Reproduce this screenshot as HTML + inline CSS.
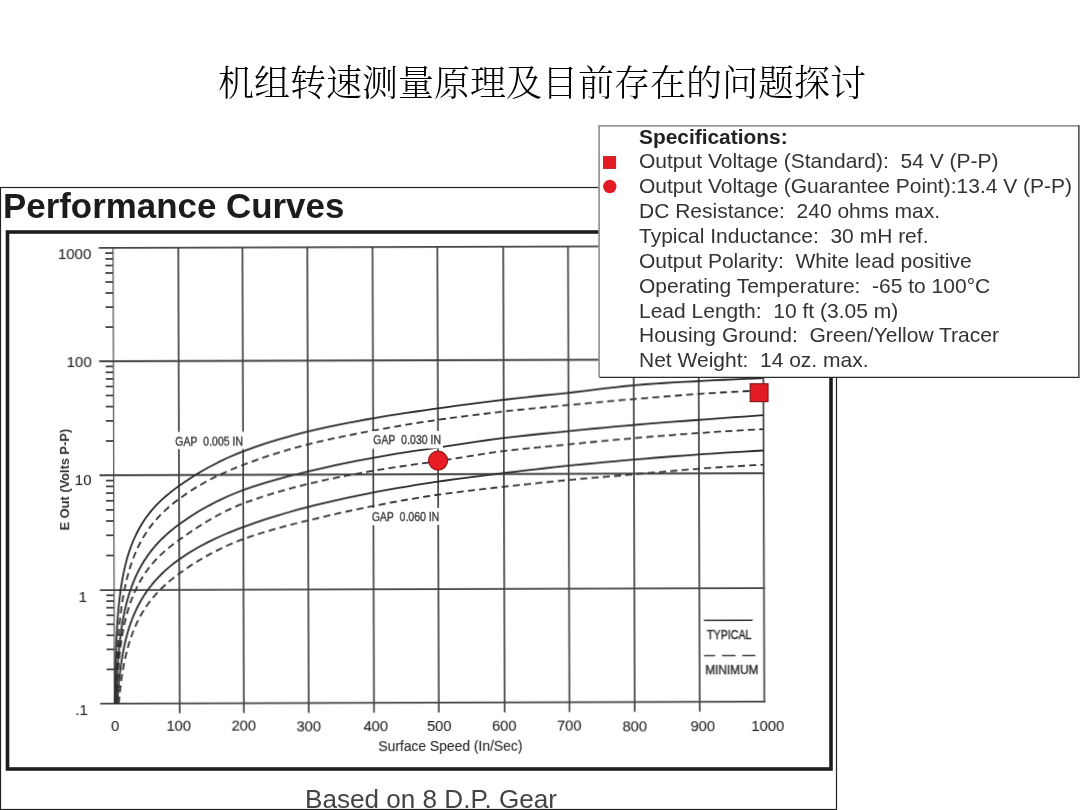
<!DOCTYPE html>
<html><head><meta charset="utf-8"><title>机组转速测量原理及目前存在的问题探讨</title>
<style>
html,body{margin:0;padding:0;background:#fff;}
body{width:1080px;height:810px;overflow:hidden;position:relative;}
svg{position:absolute;left:0;top:0;}
.g{stroke:#444;stroke-width:1.7;fill:none;}
.gh{stroke:#444;stroke-width:1.9;fill:none;}
.ax{stroke:#666;stroke-width:1.4;fill:none;}
.t{stroke:#444;stroke-width:1.8;fill:none;}
.cs{stroke:#2a2a2a;stroke-width:1.8;fill:none;stroke-linejoin:round;}
.cd{stroke:#333;stroke-width:1.8;fill:none;stroke-dasharray:7 4.3;}
.lab{font-family:"Liberation Sans",Arial,sans-serif;fill:#2a2a2a;stroke:#2a2a2a;stroke-width:0.12;}
.gl{font-family:"Liberation Sans",Arial,sans-serif;fill:#2a2a2a;stroke:#2a2a2a;stroke-width:0.35;font-size:12.4px;}
.sr{font-family:"Liberation Sans",Arial,sans-serif;font-size:21px;fill:#333;}
.sb{font-family:"Liberation Sans",Arial,sans-serif;font-size:20.9px;font-weight:bold;fill:#222;}
.title{font-family:"Liberation Serif","Noto Serif CJK SC",serif;font-size:36px;font-weight:300;fill:#000;}
</style></head>
<body>
<svg width="1080" height="810" viewBox="0 0 1080 810">
<defs><filter id="bl" x="-5%" y="-5%" width="110%" height="110%"><feGaussianBlur stdDeviation="0.45"/></filter></defs>
<text x="218" y="96" class="title">机组转速测量原理及目前存在的问题探讨</text>
<rect x="0.5" y="187.5" width="836" height="622" fill="none" stroke="#222" stroke-width="1.2"/>
<rect x="7.5" y="232" width="823.5" height="537" fill="none" stroke="#1e1e1e" stroke-width="3.6"/>
<text x="3" y="218.3" font-family="Liberation Sans,Arial,sans-serif" font-weight="bold" font-size="34.9" fill="#1c1c1c">Performance Curves</text>
<text x="305.1" y="808" font-family="Liberation Sans,Arial,sans-serif" font-size="26.1" fill="#444">Based on 8 D.P. Gear</text>
<g transform="rotate(-0.176 438 475)" filter="url(#bl)">
<line x1="179.0" y1="246.9" x2="179.0" y2="712.6" class="g"/>
<line x1="243.2" y1="246.9" x2="243.2" y2="712.6" class="g"/>
<line x1="308.0" y1="246.9" x2="308.0" y2="712.6" class="g"/>
<line x1="373.3" y1="246.9" x2="373.3" y2="712.6" class="g"/>
<line x1="438.1" y1="246.9" x2="438.1" y2="712.6" class="g"/>
<line x1="503.9" y1="246.9" x2="503.9" y2="712.6" class="g"/>
<line x1="568.7" y1="246.9" x2="568.7" y2="712.6" class="g"/>
<line x1="634.0" y1="246.9" x2="634.0" y2="712.6" class="g"/>
<line x1="699.0" y1="246.9" x2="699.0" y2="712.6" class="g"/>
<line x1="763.6" y1="246.9" x2="763.6" y2="703.5" class="g"/>
<line x1="113.7" y1="246.9" x2="113.7" y2="702.6" class="ax"/>
<line x1="99.5" y1="246.9" x2="764.4" y2="246.9" class="gh"/>
<line x1="99.5" y1="360.2" x2="764.4" y2="360.2" class="gh"/>
<line x1="99.5" y1="474.3" x2="764.4" y2="474.3" class="gh"/>
<line x1="99.5" y1="589.1" x2="764.4" y2="589.1" class="gh"/>
<line x1="99.5" y1="702.6" x2="764.4" y2="702.6" class="gh"/>
<line x1="106" y1="668.4" x2="113.7" y2="668.4" class="t"/>
<line x1="106" y1="648.4" x2="113.7" y2="648.4" class="t"/>
<line x1="106" y1="634.3" x2="113.7" y2="634.3" class="t"/>
<line x1="106" y1="623.3" x2="113.7" y2="623.3" class="t"/>
<line x1="106" y1="614.3" x2="113.7" y2="614.3" class="t"/>
<line x1="106" y1="606.7" x2="113.7" y2="606.7" class="t"/>
<line x1="106" y1="600.1" x2="113.7" y2="600.1" class="t"/>
<line x1="106" y1="594.3" x2="113.7" y2="594.3" class="t"/>
<line x1="106" y1="554.5" x2="113.7" y2="554.5" class="t"/>
<line x1="106" y1="534.3" x2="113.7" y2="534.3" class="t"/>
<line x1="106" y1="520.0" x2="113.7" y2="520.0" class="t"/>
<line x1="106" y1="508.9" x2="113.7" y2="508.9" class="t"/>
<line x1="106" y1="499.8" x2="113.7" y2="499.8" class="t"/>
<line x1="106" y1="492.1" x2="113.7" y2="492.1" class="t"/>
<line x1="106" y1="485.4" x2="113.7" y2="485.4" class="t"/>
<line x1="106" y1="479.6" x2="113.7" y2="479.6" class="t"/>
<line x1="106" y1="440.0" x2="113.7" y2="440.0" class="t"/>
<line x1="106" y1="419.9" x2="113.7" y2="419.9" class="t"/>
<line x1="106" y1="405.6" x2="113.7" y2="405.6" class="t"/>
<line x1="106" y1="394.5" x2="113.7" y2="394.5" class="t"/>
<line x1="106" y1="385.5" x2="113.7" y2="385.5" class="t"/>
<line x1="106" y1="377.9" x2="113.7" y2="377.9" class="t"/>
<line x1="106" y1="371.3" x2="113.7" y2="371.3" class="t"/>
<line x1="106" y1="365.4" x2="113.7" y2="365.4" class="t"/>
<line x1="106" y1="326.1" x2="113.7" y2="326.1" class="t"/>
<line x1="106" y1="306.1" x2="113.7" y2="306.1" class="t"/>
<line x1="106" y1="292.0" x2="113.7" y2="292.0" class="t"/>
<line x1="106" y1="281.0" x2="113.7" y2="281.0" class="t"/>
<line x1="106" y1="272.0" x2="113.7" y2="272.0" class="t"/>
<line x1="106" y1="264.5" x2="113.7" y2="264.5" class="t"/>
<line x1="106" y1="257.9" x2="113.7" y2="257.9" class="t"/>
<line x1="106" y1="252.1" x2="113.7" y2="252.1" class="t"/>

<path d="M114.25,702.60 L114.26,701.82 L114.30,698.32 L114.35,694.82 L114.40,691.32 L114.46,687.82 L114.52,684.32 L114.59,680.82 L114.66,677.32 L114.73,673.81 L114.82,670.31 L114.90,666.81 L115.00,663.31 L115.10,659.81 L115.22,656.31 L115.34,652.81 L115.47,649.30 L115.61,645.80 L115.76,642.30 L115.93,638.80 L116.10,635.30 L116.30,631.80 L116.50,628.30 L116.73,624.80 L116.97,621.30 L117.23,617.80 L117.51,614.30 L117.82,610.80 L118.14,607.30 L118.50,603.81 L118.88,600.31 L119.29,596.81 L119.74,593.32 L120.22,589.83 L120.74,586.30 L121.31,582.77 L121.91,579.24 L122.57,575.71 L123.28,572.18 L124.04,568.65 L124.87,565.13 L125.76,561.60 L126.72,558.08 L127.76,554.56 L128.88,551.05 L130.09,547.53 L131.40,544.02 L132.81,540.51 L134.34,537.01 L135.99,533.51 L137.76,530.01 L139.69,526.52 L141.76,523.03 L144.00,519.55 L146.42,516.07 L149.03,512.61 L151.85,509.16 L154.89,505.73 L158.18,502.31 L161.73,498.90 L165.56,495.50 L169.70,492.07 L174.17,488.62 L179.00,485.10 L188.79,478.40 L198.59,472.32 L208.38,466.77 L218.17,461.68 L227.97,457.03 L237.76,452.83 L247.59,449.08 L257.48,445.62 L267.36,442.39 L277.25,439.37 L287.13,436.55 L297.02,433.91 L306.90,431.46 L316.85,429.17 L326.82,426.99 L336.78,424.92 L346.74,422.95 L356.70,421.07 L366.66,419.26 L376.59,417.54 L386.48,415.91 L396.36,414.38 L406.25,412.91 L416.13,411.50 L426.02,410.10 L435.90,408.71 L445.91,407.32 L455.94,405.97 L465.98,404.65 L476.02,403.38 L486.06,402.13 L496.09,400.92 L506.10,399.74 L515.98,398.62 L525.87,397.55 L535.75,396.52 L545.64,395.52 L555.52,394.53 L565.41,393.54 L575.34,392.50 L585.30,391.37 L595.26,390.18 L605.22,388.98 L615.18,387.82 L625.15,386.75 L635.10,385.80 L645.02,385.01 L654.93,384.33 L664.85,383.75 L674.76,383.22 L684.68,382.72 L694.59,382.23 L704.47,381.72 L714.33,381.22 L724.18,380.75 L734.04,380.31 L743.89,379.88 L753.75,379.48 L763.60,379.10" class="cs"/>
<path d="M115.27,702.60 L115.34,700.41 L115.47,696.65 L115.61,692.89 L115.76,689.14 L115.93,685.39 L116.10,681.65 L116.30,677.91 L116.50,674.17 L116.73,670.43 L116.97,666.70 L117.23,662.98 L117.51,659.25 L117.82,655.53 L118.14,651.81 L118.50,648.10 L118.88,644.39 L119.29,640.68 L119.74,636.98 L120.22,633.28 L120.74,629.59 L121.31,625.89 L121.91,622.21 L122.57,618.52 L123.28,614.84 L124.04,611.16 L124.87,607.49 L125.76,603.82 L126.72,600.16 L127.76,596.50 L128.88,592.84 L130.09,589.19 L131.40,585.50 L132.81,581.81 L134.34,578.13 L135.99,574.45 L137.76,570.78 L139.69,567.11 L141.76,563.45 L144.00,559.79 L146.42,556.14 L149.03,552.49 L151.85,548.85 L154.89,545.22 L158.18,541.60 L161.73,537.98 L165.56,534.37 L169.70,530.76 L174.17,527.14 L179.00,523.50 L188.79,516.69 L198.59,510.59 L208.38,505.08 L218.17,500.07 L227.97,495.54 L237.76,491.47 L247.59,487.84 L257.48,484.57 L267.36,481.59 L277.25,478.82 L287.13,476.23 L297.02,473.75 L306.90,471.36 L316.85,469.04 L326.82,466.81 L336.78,464.67 L346.74,462.63 L356.70,460.67 L366.66,458.80 L376.59,457.02 L386.48,455.33 L396.36,453.72 L406.25,452.18 L416.13,450.69 L426.02,449.24 L435.90,447.81 L445.91,446.38 L455.94,444.90 L465.98,443.40 L476.02,441.92 L486.06,440.50 L496.09,439.16 L506.10,437.94 L515.98,436.82 L525.87,435.75 L535.75,434.73 L545.64,433.74 L555.52,432.78 L565.41,431.82 L575.34,430.87 L585.30,429.93 L595.26,429.00 L605.22,428.09 L615.18,427.21 L625.15,426.35 L635.10,425.51 L645.02,424.71 L654.93,423.93 L664.85,423.18 L674.76,422.45 L684.68,421.73 L694.59,421.02 L704.47,420.30 L714.33,419.60 L724.18,418.90 L734.04,418.22 L743.89,417.54 L753.75,416.86 L763.60,416.20" class="cs"/>
<path d="M116.62,702.60 L116.73,700.94 L116.97,697.36 L117.23,693.79 L117.51,690.22 L117.82,686.65 L118.14,683.08 L118.50,679.51 L118.88,675.94 L119.29,672.38 L119.74,668.81 L120.22,665.24 L120.74,661.68 L121.31,658.11 L121.91,654.55 L122.57,650.98 L123.28,647.42 L124.04,643.86 L124.87,640.30 L125.76,636.74 L126.72,633.18 L127.76,629.62 L128.88,626.07 L130.09,622.51 L131.40,618.96 L132.81,615.41 L134.34,611.86 L135.99,608.31 L137.76,604.76 L139.69,601.21 L141.76,597.67 L144.00,594.13 L146.42,590.59 L149.03,587.03 L151.85,583.45 L154.89,579.88 L158.18,576.31 L161.73,572.75 L165.56,569.19 L169.70,565.63 L174.17,562.07 L179.00,558.50 L188.79,551.93 L198.59,546.18 L208.38,541.08 L218.17,536.48 L227.97,532.29 L237.76,528.43 L247.59,524.83 L257.48,521.44 L267.36,518.21 L277.25,515.15 L287.13,512.24 L297.02,509.48 L306.90,506.88 L316.85,504.41 L326.82,502.04 L336.78,499.77 L346.74,497.60 L356.70,495.53 L366.66,493.56 L376.59,491.69 L386.48,489.90 L396.36,488.18 L406.25,486.52 L416.13,484.93 L426.02,483.39 L435.90,481.92 L445.91,480.51 L455.94,479.15 L465.98,477.83 L476.02,476.56 L486.06,475.32 L496.09,474.12 L506.10,472.94 L515.98,471.79 L525.87,470.67 L535.75,469.57 L545.64,468.50 L555.52,467.45 L565.41,466.43 L575.34,465.44 L585.30,464.49 L595.26,463.56 L605.22,462.67 L615.18,461.79 L625.15,460.94 L635.10,460.11 L645.02,459.30 L654.93,458.51 L664.85,457.75 L674.76,457.01 L684.68,456.30 L694.59,455.60 L704.47,454.93 L714.33,454.29 L724.18,453.68 L734.04,453.10 L743.89,452.55 L753.75,452.01 L763.60,451.50" class="cs"/>
<path d="M114.95,702.60 L115.00,700.56 L115.10,696.28 L115.22,692.01 L115.34,687.75 L115.47,683.51 L115.61,679.28 L115.76,675.05 L115.93,670.85 L116.10,666.65 L116.30,662.47 L116.50,658.29 L116.73,654.13 L116.97,649.99 L117.23,645.85 L117.51,641.73 L117.82,637.62 L118.14,633.52 L118.50,629.44 L118.88,625.37 L119.29,621.31 L119.74,617.26 L120.22,613.23 L120.74,609.21 L121.31,605.20 L121.91,601.21 L122.57,597.23 L123.28,593.26 L124.04,589.31 L124.87,585.33 L125.76,581.36 L126.72,577.40 L127.76,573.46 L128.88,569.53 L130.09,565.62 L131.40,561.72 L132.81,557.84 L134.34,553.98 L135.99,550.13 L137.76,546.29 L139.69,542.47 L141.76,538.67 L144.00,534.89 L146.42,531.12 L149.03,527.38 L151.85,523.67 L154.89,519.99 L158.18,516.33 L161.73,512.69 L165.56,509.07 L169.70,505.44 L174.17,501.80 L179.00,498.10 L188.79,491.20 L198.59,485.13 L208.38,479.72 L218.17,474.82 L227.97,470.39 L237.76,466.32 L247.59,462.57 L257.48,459.04 L267.36,455.70 L277.25,452.56 L287.13,449.60 L297.02,446.84 L306.90,444.27 L316.85,441.89 L326.82,439.63 L336.78,437.49 L346.74,435.45 L356.70,433.50 L366.66,431.62 L376.59,429.80 L386.48,428.03 L396.36,426.32 L406.25,424.66 L416.13,423.07 L426.02,421.55 L435.90,420.11 L445.91,418.75 L455.94,417.43 L465.98,416.16 L476.02,414.93 L486.06,413.74 L496.09,412.58 L506.10,411.46 L515.98,410.40 L525.87,409.40 L535.75,408.45 L545.64,407.52 L555.52,406.62 L565.41,405.71 L575.34,404.79 L585.30,403.88 L595.26,402.99 L605.22,402.12 L615.18,401.26 L625.15,400.43 L635.10,399.61 L645.02,398.82 L654.93,398.03 L664.85,397.27 L674.76,396.53 L684.68,395.80 L694.59,395.10 L704.47,394.44 L714.33,393.82 L724.18,393.26 L734.04,392.75 L743.89,392.27 L753.75,391.82 L763.60,391.40" class="cd"/>
<path d="M115.59,702.60 L115.61,701.99 L115.76,698.36 L115.93,694.74 L116.10,691.12 L116.30,687.50 L116.50,683.88 L116.73,680.27 L116.97,676.65 L117.23,673.05 L117.51,669.44 L117.82,665.84 L118.14,662.23 L118.50,658.64 L118.88,655.04 L119.29,651.45 L119.74,647.86 L120.22,644.28 L120.74,640.69 L121.31,637.12 L121.91,633.54 L122.57,629.97 L123.28,626.41 L124.04,622.84 L124.87,619.29 L125.76,615.74 L126.72,612.19 L127.76,608.65 L128.88,605.11 L130.09,601.58 L131.40,598.06 L132.81,594.54 L134.34,591.03 L135.99,587.52 L137.76,583.98 L139.69,580.46 L141.76,576.94 L144.00,573.44 L146.42,569.94 L149.03,566.47 L151.85,563.03 L154.89,559.61 L158.18,556.22 L161.73,552.85 L165.56,549.48 L169.70,546.08 L174.17,542.64 L179.00,539.10 L188.79,532.22 L198.59,525.80 L208.38,519.82 L218.17,514.31 L227.97,509.32 L237.76,504.94 L247.59,501.21 L257.48,497.82 L267.36,494.65 L277.25,491.70 L287.13,488.93 L297.02,486.32 L306.90,483.87 L316.85,481.55 L326.82,479.37 L336.78,477.31 L346.74,475.36 L356.70,473.51 L366.66,471.74 L376.59,470.05 L386.48,468.46 L396.36,466.97 L406.25,465.55 L416.13,464.17 L426.02,462.80 L435.90,461.41 L445.91,459.96 L455.94,458.39 L465.98,456.77 L476.02,455.15 L486.06,453.60 L496.09,452.18 L506.10,450.94 L515.98,449.85 L525.87,448.84 L535.75,447.88 L545.64,446.96 L555.52,446.05 L565.41,445.12 L575.34,444.16 L585.30,443.21 L595.26,442.27 L605.22,441.34 L615.18,440.44 L625.15,439.56 L635.10,438.71 L645.02,437.89 L654.93,437.10 L664.85,436.34 L674.76,435.60 L684.68,434.89 L694.59,434.20 L704.47,433.53 L714.33,432.89 L724.18,432.28 L734.04,431.70 L743.89,431.14 L753.75,430.61 L763.60,430.10" class="cd"/>
<path d="M118.08,702.60 L118.14,701.84 L118.50,698.00 L118.88,694.16 L119.29,690.34 L119.74,686.52 L120.22,682.70 L120.74,678.90 L121.31,675.11 L121.91,671.32 L122.57,667.54 L123.28,663.77 L124.04,660.01 L124.87,656.26 L125.76,652.51 L126.72,648.78 L127.76,645.05 L128.88,641.34 L130.09,637.63 L131.40,633.94 L132.81,630.25 L134.34,626.57 L135.99,622.91 L137.76,619.25 L139.69,615.61 L141.76,611.98 L144.00,608.36 L146.42,604.75 L149.03,601.16 L151.85,597.59 L154.89,594.05 L158.18,590.52 L161.73,586.98 L165.56,583.44 L169.70,579.89 L174.17,576.32 L179.00,572.70 L188.79,565.87 L198.59,559.73 L208.38,554.16 L218.17,549.11 L227.97,544.54 L237.76,540.46 L247.59,536.85 L257.48,533.60 L267.36,530.60 L277.25,527.83 L287.13,525.22 L297.02,522.75 L306.90,520.36 L316.85,518.02 L326.82,515.71 L336.78,513.45 L346.74,511.25 L356.70,509.12 L366.66,507.09 L376.59,505.17 L386.48,503.31 L396.36,501.49 L406.25,499.74 L416.13,498.07 L426.02,496.49 L435.90,495.01 L445.91,493.65 L455.94,492.36 L465.98,491.14 L476.02,489.97 L486.06,488.84 L496.09,487.74 L506.10,486.66 L515.98,485.60 L525.87,484.57 L535.75,483.57 L545.64,482.59 L555.52,481.63 L565.41,480.71 L575.34,479.81 L585.30,478.94 L595.26,478.11 L605.22,477.29 L615.18,476.48 L625.15,475.65 L635.10,474.81 L645.02,473.96 L654.93,473.12 L664.85,472.31 L674.76,471.50 L684.68,470.71 L694.59,469.94 L704.47,469.19 L714.33,468.50 L724.18,467.87 L734.04,467.28 L743.89,466.73 L753.75,466.20 L763.60,465.70" class="cd"/>
<rect x="174" y="431.3" width="71" height="17" fill="#fff"/>
<rect x="372" y="430.9" width="71" height="17.6" fill="#fff"/>
<rect x="370" y="507.9" width="71" height="17" fill="#fff"/>
<g class="lab" font-size="15" text-anchor="end">
<text x="92" y="257.94" >1000</text>
<text x="92" y="366.44" >100</text>
<text x="91.5" y="483.94" >10</text>
<text x="86.5" y="601.42" >1</text>
<text x="87" y="713.92" >.1</text>
</g>
<g class="lab" font-size="14.8" text-anchor="middle">
<text x="114.4" y="730.01" >0</text>
<text x="178" y="730.2" >100</text>
<text x="243" y="730.4" >200</text>
<text x="308" y="730.6" >300</text>
<text x="375" y="730.81" >400</text>
<text x="438.5" y="731.0" >500</text>
<text x="503.5" y="731.2" >600</text>
<text x="568.5" y="731.4" >700</text>
<text x="634" y="731.6" >800</text>
<text x="702" y="731.81" >900</text>
<text x="767" y="732.01" >1000</text>
</g>
<text x="377.5" y="750.81" class="lab" font-size="13.9" textLength="144" lengthAdjust="spacingAndGlyphs">Surface Speed (In/Sec)</text>
<text transform="translate(68.8,529.27) rotate(-90)" class="lab" font-size="12.6" font-weight="bold" textLength="101.5" lengthAdjust="spacingAndGlyphs" style="fill:#333;stroke:none">E Out (Volts P-P)</text>
<g class="gl">
<text x="175.3" y="444.59" textLength="67.8" lengthAdjust="spacingAndGlyphs">GAP  0.005 IN</text>
<text x="373.3" y="444.4" textLength="67.8" lengthAdjust="spacingAndGlyphs">GAP  0.030 IN</text>
<text x="371.7" y="521.4" textLength="67.5" lengthAdjust="spacingAndGlyphs">GAP  0.060 IN</text>
<text x="706.5" y="639.62" textLength="44.5" lengthAdjust="spacingAndGlyphs">TYPICAL</text>
<text x="704.7" y="674.82" textLength="53.1" lengthAdjust="spacingAndGlyphs">MINIMUM</text>
</g>
<line x1="703.5" y1="621.29" x2="752.2" y2="621.29" stroke="#333" stroke-width="1.6"/>
<path d="M703.5,656.49 H714.6 M721.4,656.49 H735 M741.7,656.49 H754.7" stroke="#444" stroke-width="1.6"/>
</g>
<circle cx="438.1" cy="460.6" r="9.5" fill="#e81c24" stroke="#9a1a1a" stroke-width="1.3"/>
<rect x="750.2" y="383.8" width="17.8" height="17.8" fill="#e31b23" stroke="#8a1a1a" stroke-width="1.2"/>
<rect x="599" y="126" width="480" height="251.3" fill="#fff"/>
<path d="M599.1,377.3 V125.9 H1079" fill="none" stroke="#9a9a9a" stroke-width="1.8"/>
<path d="M1078.9,125.2 V377.3 H599.5" fill="none" stroke="#2a2a2a" stroke-width="1.3"/>
<rect x="603.5" y="156.5" width="12.2" height="12" fill="#e31b23" stroke="#b01820" stroke-width="0.8"/>
<circle cx="609.8" cy="186.5" r="6.7" fill="#e31b23"/>
<text x="639" y="143.5" class="sb">Specifications:</text>
<text x="639" y="168.3" class="sr">Output Voltage (Standard):  54 V (P-P)</text>
<text x="639" y="193.2" class="sr">Output Voltage (Guarantee Point):13.4 V (P-P)</text>
<text x="639" y="218.1" class="sr">DC Resistance:  240 ohms max.</text>
<text x="639" y="242.9" class="sr">Typical Inductance:  30 mH ref.</text>
<text x="639" y="267.8" class="sr">Output Polarity:  White lead positive</text>
<text x="639" y="292.6" class="sr">Operating Temperature:  -65 to 100°C</text>
<text x="639" y="317.5" class="sr">Lead Length:  10 ft (3.05 m)</text>
<text x="639" y="342.3" class="sr">Housing Ground:  Green/Yellow Tracer</text>
<text x="639" y="367.1" class="sr">Net Weight:  14 oz. max.</text>
</svg>
</body></html>
